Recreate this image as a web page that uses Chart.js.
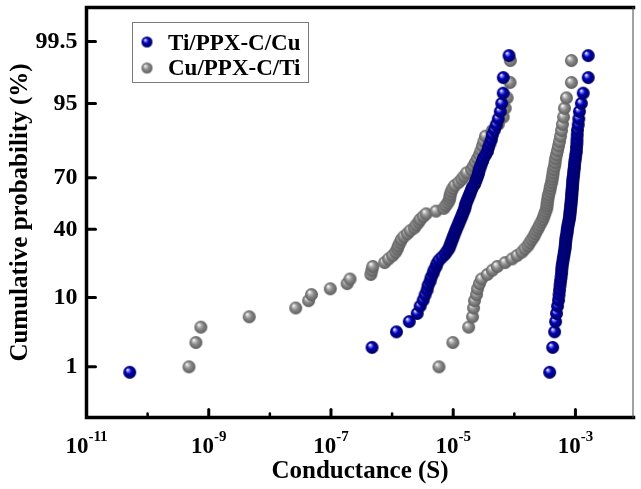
<!DOCTYPE html>
<html>
<head>
<meta charset="utf-8">
<script src="https://cdn.jsdelivr.net/npm/chart.js@4.4.1/dist/chart.umd.min.js"></script>
<style>
  html, body { margin: 0; padding: 0; background: #fff; }
  #wrap { width: 641px; height: 489px; }
</style>
</head>
<body>
<div id="wrap"><canvas id="chart" width="641" height="489"></canvas></div>
<script>
// cumulative probability (%) of each rank
const tiProb = [0.8, 2.1, 3.6, 5.0, 6.4, 7.9, 9.3, 10.7, 12.1, 13.6,
  15.0, 16.4, 17.9, 19.3, 20.7, 22.1, 23.6, 25.0, 26.4, 27.9,
  29.3, 30.7, 32.1, 33.6, 35.0, 36.4, 37.9, 39.3, 40.7, 42.1,
  43.6, 45.0, 46.4, 47.9, 49.3, 50.7, 52.1, 53.6, 55.0, 56.4,
  57.9, 59.3, 60.7, 62.1, 63.6, 65.0, 66.4, 67.9, 69.3, 70.7,
  72.1, 73.6, 75.0, 76.4, 77.9, 79.3, 80.7, 82.1, 83.6, 85.0,
  86.4, 87.9, 89.3, 90.7, 92.1, 93.6, 95.0, 96.4, 97.9, 99.1];
const cuProb = [1.0, 2.5, 4.2, 5.8, 7.5, 9.2, 10.8, 12.5, 14.2, 15.8,
  17.5, 19.2, 20.8, 22.5, 24.2, 25.8, 27.5, 29.2, 30.8, 32.5,
  34.2, 35.8, 37.5, 39.2, 40.8, 42.5, 44.2, 45.8, 47.5, 49.2,
  50.8, 52.5, 54.2, 55.8, 57.5, 59.2, 60.8, 62.5, 64.2, 65.8,
  67.5, 69.2, 70.8, 72.5, 74.2, 75.8, 77.5, 79.2, 80.8, 82.5,
  84.2, 85.8, 87.5, 89.2, 90.8, 92.5, 94.2, 95.8, 97.5, 98.9];

// conductance (S), Ti/PPX-C/Cu
const tiLowG = [5.1e-11, 4.7e-7, 1.18e-6, 1.91e-6, 2.58e-6, 2.88e-6, 3.22e-6, 3.47e-6, 3.74e-6, 3.88e-6,
  4.19e-6, 4.35e-6, 4.68e-6, 4.86e-6, 5.24e-6, 5.43e-6, 5.85e-6, 6.55e-6, 7.31e-6, 7.89e-6,
  8.49e-6, 8.81e-6, 9.14e-6, 9.49e-6, 9.86e-6, 1.02e-5, 1.06e-5, 1.10e-5, 1.14e-5, 1.19e-5,
  1.23e-5, 1.28e-5, 1.33e-5, 1.38e-5, 1.43e-5, 1.48e-5, 1.54e-5, 1.57e-5, 1.60e-5, 1.66e-5,
  1.72e-5, 1.79e-5, 1.86e-5, 1.92e-5, 2.00e-5, 2.07e-5, 2.23e-5, 2.32e-5, 2.41e-5, 2.50e-5,
  2.59e-5, 2.64e-5, 2.74e-5, 2.85e-5, 3.01e-5, 3.13e-5, 3.37e-5, 3.63e-5, 3.77e-5, 3.98e-5,
  4.21e-5, 4.37e-5, 4.71e-5, 5.07e-5, 5.46e-5, 5.89e-5, 6.22e-5, 6.58e-5, 6.6e-5, 8.2e-5];
const tiHighG = [3.79e-4, 4.24e-4, 4.56e-4, 4.73e-4, 4.91e-4, 5.09e-4, 5.29e-4, 5.39e-4, 5.49e-4, 5.60e-4,
  5.70e-4, 5.81e-4, 5.92e-4, 5.97e-4, 6.03e-4, 6.14e-4, 6.26e-4, 6.38e-4, 6.50e-4, 6.62e-4,
  6.75e-4, 6.80e-4, 6.87e-4, 6.93e-4, 7.00e-4, 7.13e-4, 7.27e-4, 7.33e-4, 7.40e-4, 7.54e-4,
  7.68e-4, 7.82e-4, 7.97e-4, 8.05e-4, 8.12e-4, 8.20e-4, 8.27e-4, 8.35e-4, 8.43e-4, 8.51e-4,
  8.59e-4, 8.65e-4, 8.70e-4, 8.75e-4, 8.83e-4, 8.91e-4, 8.97e-4, 9.03e-4, 9.08e-4, 9.25e-4,
  9.33e-4, 9.42e-4, 9.60e-4, 9.65e-4, 9.78e-4, 9.96e-4, 1.01e-3, 1.035e-3, 1.04e-3, 1.054e-3,
  1.06e-3, 1.07e-3, 1.08e-3, 1.11e-3, 1.135e-3, 1.16e-3, 1.25e-3, 1.34e-3, 1.62e-3, 1.62e-3];

// conductance (S), Cu/PPX-C/Ti
const cuLowG = [4.75e-10, 6.17e-10, 7.43e-10, 4.60e-9, 2.65e-8, 4.30e-8, 4.80e-8, 9.75e-8, 1.84e-7, 2.05e-7,
  4.49e-7, 4.66e-7, 4.83e-7, 7.55e-7, 8.77e-7, 1.02e-6, 1.14e-6, 1.22e-6, 1.27e-6, 1.35e-6,
  1.42e-6, 1.56e-6, 1.78e-6, 1.99e-6, 2.31e-6, 2.48e-6, 2.73e-6, 2.88e-6, 3.22e-6, 3.61e-6,
  5.24e-6, 7.05e-6, 7.59e-6, 8.18e-6, 8.65e-6, 8.81e-6, 8.97e-6, 9.31e-6, 9.86e-6, 1.06e-5,
  1.23e-5, 1.38e-5, 1.51e-5, 1.66e-5, 2.00e-5, 2.15e-5, 2.32e-5, 2.50e-5, 2.69e-5, 2.85e-5,
  3.01e-5, 3.18e-5, 3.37e-5, 4.37e-5, 5.46e-5, 6.58e-5, 7.09e-5, 7.64e-5, 8.5e-5, 8.6e-5];
const cuHighG = [5.85e-6, 9.86e-6, 1.79e-5, 2.07e-5, 2.15e-5, 2.23e-5, 2.41e-5, 2.50e-5, 2.69e-5, 2.90e-5,
  3.62e-5, 4.37e-5, 5.26e-5, 7.08e-5, 9.19e-5, 1.11e-4, 1.33e-4, 1.49e-4, 1.67e-4, 1.79e-4,
  1.93e-4, 2.08e-4, 2.20e-4, 2.33e-4, 2.47e-4, 2.61e-4, 2.76e-4, 2.92e-4, 3.03e-4, 3.14e-4,
  3.26e-4, 3.39e-4, 3.42e-4, 3.45e-4, 3.52e-4, 3.58e-4, 3.65e-4, 3.79e-4, 3.86e-4, 3.93e-4,
  4.08e-4, 4.15e-4, 4.24e-4, 4.31e-4, 4.39e-4, 4.56e-4, 4.65e-4, 4.73e-4, 4.91e-4, 5.09e-4,
  5.29e-4, 5.49e-4, 5.70e-4, 5.92e-4, 6.14e-4, 6.38e-4, 6.62e-4, 7.13e-4, 8.59e-4, 8.59e-4];

const probTicks = [1, 10, 40, 70, 95, 99.5];
const majorExp = [-11, -9, -7, -5, -3];
const minorExp = [-10, -8, -6, -4];

const FONT = '"Liberation Serif", "Times New Roman", serif';

// inverse normal CDF (Acklam), used for the probability axis
function probit(p) {
  const a = [-3.969683028665376e+01, 2.209460984245205e+02, -2.759285104469687e+02, 1.383577518672690e+02, -3.066479806614716e+01, 2.506628277459239e+00];
  const b = [-5.447609879822406e+01, 1.615858368580409e+02, -1.556989798598866e+02, 6.680131188771972e+01, -1.328068155288572e+01];
  const c = [-7.784894002430293e-03, -3.223964580411365e-01, -2.400758277161838e+00, -2.549732539343734e+00, 4.374664141464968e+00, 2.938163982698783e+00];
  const d = [7.784695709041462e-03, 3.224671290700398e-01, 2.445134137142996e+00, 3.754408661907416e+00];
  const lo = 0.02425;
  if (p < lo) {
    const q = Math.sqrt(-2 * Math.log(p));
    return (((((c[0]*q+c[1])*q+c[2])*q+c[3])*q+c[4])*q+c[5]) / ((((d[0]*q+d[1])*q+d[2])*q+d[3])*q+1);
  }
  if (p > 1 - lo) {
    const q = Math.sqrt(-2 * Math.log(1 - p));
    return -(((((c[0]*q+c[1])*q+c[2])*q+c[3])*q+c[4])*q+c[5]) / ((((d[0]*q+d[1])*q+d[2])*q+d[3])*q+1);
  }
  const q = p - 0.5, r = q * q;
  return (((((a[0]*r+a[1])*r+a[2])*r+a[3])*r+a[4])*r+a[5])*q / (((((b[0]*r+b[1])*r+b[2])*r+b[3])*r+b[4])*r+1);
}

// shaded ball marker
function sphere(r, stops) {
  const cv = document.createElement('canvas');
  cv.width = cv.height = Math.ceil(2 * r + 2);
  const g = cv.getContext('2d');
  const cx = cv.width / 2, cy = cv.height / 2;
  const grad = g.createRadialGradient(cx - r * 0.35, cy - r * 0.4, r * 0.05, cx, cy, r);
  stops.forEach(s => grad.addColorStop(s[0], s[1]));
  g.fillStyle = grad;
  g.beginPath();
  g.arc(cx, cy, r, 0, Math.PI * 2);
  g.fill();
  return cv;
}
const blueStops = [[0, '#ffffff'], [0.18, '#7a7aff'], [0.45, '#0000b4'], [1, '#00005a']];
const greyStops = [[0, '#ffffff'], [0.2, '#c4c4c4'], [0.5, '#8a8a8a'], [1, '#5c5c5c']];
const blueBall = sphere(6.5, blueStops);
const greyBall = sphere(6.5, greyStops);
const blueSmall = sphere(5.5, blueStops);
const greySmall = sphere(5.5, greyStops);

function pts(g, p) {
  return g.map((v, i) => ({ x: v, y: probit(p[i] / 100) }));
}

const axisDecor = {
  id: 'axisDecor',
  afterDraw(chart) {
    const { ctx, chartArea: a, scales: { x, y } } = chart;
    ctx.save();

    // frame
    ctx.strokeStyle = '#000';
    ctx.lineWidth = 3.5;
    ctx.lineCap = 'square';
    ctx.beginPath();
    ctx.moveTo(a.right, a.top);
    ctx.lineTo(a.left, a.top);
    ctx.lineTo(a.left, a.bottom);
    ctx.lineTo(a.right, a.bottom);
    ctx.stroke();
    ctx.lineWidth = 1;
    ctx.strokeStyle = '#444';
    ctx.beginPath();
    ctx.moveTo(a.right - 0.5, a.top);
    ctx.lineTo(a.right - 0.5, a.bottom);
    ctx.stroke();

    // inward ticks
    ctx.strokeStyle = '#000';
    ctx.lineCap = 'round';
    ctx.lineWidth = 3;
    majorExp.forEach(e => {
      const px = x.getPixelForValue(Math.pow(10, e));
      ctx.beginPath(); ctx.moveTo(px, a.bottom); ctx.lineTo(px, a.bottom - 8); ctx.stroke();
    });
    ctx.lineWidth = 2.5;
    minorExp.forEach(e => {
      const px = x.getPixelForValue(Math.pow(10, e));
      ctx.beginPath(); ctx.moveTo(px, a.bottom); ctx.lineTo(px, a.bottom - 4); ctx.stroke();
    });
    ctx.lineWidth = 3;
    probTicks.forEach(p => {
      const py = y.getPixelForValue(probit(p / 100));
      ctx.beginPath(); ctx.moveTo(a.left, py); ctx.lineTo(a.left + 9, py); ctx.stroke();
    });

    // tick labels
    ctx.fillStyle = '#000';
    ctx.font = 'bold 24px ' + FONT;
    ctx.textAlign = 'right';
    ctx.textBaseline = 'middle';
    probTicks.forEach(p => {
      ctx.fillText(String(p), a.left - 9, y.getPixelForValue(probit(p / 100)));
    });
    ctx.textAlign = 'left';
    ctx.textBaseline = 'alphabetic';
    majorExp.forEach(e => {
      const px = x.getPixelForValue(Math.pow(10, e));
      ctx.font = 'bold 23px ' + FONT;
      const w1 = ctx.measureText('10').width;
      ctx.font = 'bold 15px ' + FONT;
      const sup = String(e);
      const w2 = ctx.measureText(sup).width;
      const x0 = px - (w1 + w2) / 2;
      ctx.font = 'bold 23px ' + FONT;
      ctx.fillText('10', x0, a.bottom + 35);
      ctx.font = 'bold 15px ' + FONT;
      ctx.fillText(sup, x0 + w1, a.bottom + 23);
    });

    // axis titles
    ctx.font = 'bold 25px ' + FONT;
    ctx.textAlign = 'center';
    ctx.fillText('Conductance (S)', (a.left + a.right) / 2, a.bottom + 60);
    ctx.save();
    ctx.translate(27, (a.top + a.bottom) / 2);
    ctx.rotate(-Math.PI / 2);
    ctx.fillText('Cumulative probability (%)', 0, 0);
    ctx.restore();

    // legend box
    ctx.fillStyle = '#fff';
    ctx.fillRect(132, 22, 176, 60);
    ctx.strokeStyle = '#7a7a7a';
    ctx.lineWidth = 1;
    ctx.strokeRect(132.5, 22.5, 176, 60);
    ctx.drawImage(blueSmall, 147 - blueSmall.width / 2, 42 - blueSmall.height / 2);
    ctx.drawImage(greySmall, 147 - greySmall.width / 2, 68 - greySmall.height / 2);
    ctx.fillStyle = '#000';
    ctx.font = 'bold 23px ' + FONT;
    ctx.textAlign = 'left';
    ctx.fillText(chart.data.datasets[0].label, 168, 50);
    ctx.fillText(chart.data.datasets[2].label, 168, 75);

    ctx.restore();
  }
};

new Chart(document.getElementById('chart'), {
  type: 'scatter',
  data: {
    datasets: [
      { label: 'Ti/PPX-C/Cu', data: pts(tiLowG, tiProb), pointStyle: blueBall, pointRadius: 6.5 },
      { label: 'Ti/PPX-C/Cu', data: pts(tiHighG, tiProb), pointStyle: blueBall, pointRadius: 6.5 },
      { label: 'Cu/PPX-C/Ti', data: pts(cuLowG, cuProb), pointStyle: greyBall, pointRadius: 6.5 },
      { label: 'Cu/PPX-C/Ti', data: pts(cuHighG, cuProb), pointStyle: greyBall, pointRadius: 6.5 }
    ]
  },
  options: {
    responsive: false,
    animation: false,
    devicePixelRatio: 1,
    layout: { padding: { left: 86.5, right: 1, top: 5, bottom: 71.5 } },
    plugins: { legend: { display: false }, tooltip: { enabled: false } },
    scales: {
      x: { type: 'logarithmic', min: 1e-11, max: Math.pow(10, -2.05), display: false },
      y: { type: 'linear', min: probit(0.001), max: probit(0.999), display: false }
    }
  },
  plugins: [axisDecor]
});
</script>
</body>
</html>
